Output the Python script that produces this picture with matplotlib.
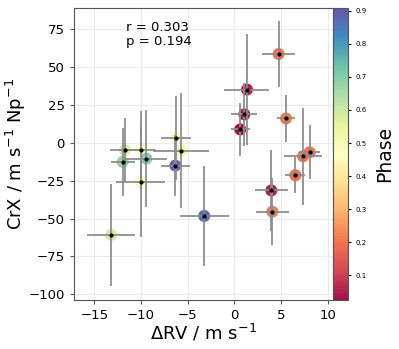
import matplotlib
matplotlib.use("Agg")
import matplotlib.pyplot as plt
import numpy as np

# values
drv = [4.75, 1.36, 1.07, 0.64, 5.54, 8.07, 7.36, 6.54, 3.97, 4.07,
       -11.72, -10.0, -9.43, -10.04, -11.97, -6.22, -6.32, -5.71, -3.22, -13.2]
drv_err = [1.79, 2.41, 1.38, 1.0, 0.98, 1.16, 2.06, 1.05, 1.79, 1.79,
           1.6, 1.6, 2.2, 2.64, 1.29, 1.59, 1.57, 3.04, 2.65, 2.59]
crx = [58.4, 35.0, 18.6, 8.7, 15.9, -6.4, -9.0, -21.5, -31.5, -45.5,
       -5.0, -5.0, -10.5, -25.9, -12.7, 3.1, -15.1, -5.2, -48.3, -60.8]
crx_err = [21.6, 36.8, 21.0, 17.5, 15.4, 17.7, 31.8, 12.0, 26.6, 22.1,
           21.0, 25.6, 32.0, 36.0, 22.6, 27.6, 20.1, 37.9, 32.8, 33.6]
phase = [0.2, 0.05, 0.04, 0.03, 0.21, 0.2, 0.2, 0.19, 0.05, 0.21,
         0.58, 0.48, 0.7, 0.45, 0.68, 0.49, 0.88, 0.53, 0.88, 0.59]
r_val = 0.303
p_val = 0.194

fig = plt.figure(figsize=(3.99, 3.49), dpi=100)
ax = fig.add_axes([0.185, 0.14, 0.65, 0.837])
cax = fig.add_axes([0.835, 0.14, 0.037, 0.837])

ax.grid(True, color="#ebebeb", lw=0.8, zorder=0)
ax.set_axisbelow(True)

sc = ax.scatter(drv, crx, c=phase, cmap="Spectral", vmin=0.025, vmax=0.908,
                s=75, edgecolors="none", alpha=0.95, zorder=2)
ax.errorbar(drv, crx, xerr=drv_err, yerr=crx_err, fmt="none",
            ecolor="#8c8c8c", elinewidth=1.4, alpha=0.9, zorder=3)
ax.scatter(drv, crx, c="k", s=4, zorder=4)

ax.set_xlim(-17.2, 10.6)
ax.set_ylim(-103.8, 88.7)
ax.set_xticks([-15, -10, -5, 0, 5, 10])
ax.set_yticks([-100, -75, -50, -25, 0, 25, 50, 75])
ax.tick_params(labelsize=9.5, length=3, color="#555555")
for s in ax.spines.values():
    s.set_color("#555555")

ax.set_xlabel("ΔRV / m s$^{-1}$", fontsize=13, labelpad=0)
ax.set_ylabel("CrX / m s$^{-1}$ Np$^{-1}$", fontsize=13, labelpad=0)
ax.text(0.20, 0.955, f"r = {r_val:.3f}\np = {p_val:.3f}",
        transform=ax.transAxes, ha="left", va="top", fontsize=9.5,
        linespacing=1.1)

cb = fig.colorbar(sc, cax=cax)
cb.set_ticks([0.1, 0.2, 0.3, 0.4, 0.5, 0.6, 0.7, 0.8, 0.9])
cb.ax.tick_params(labelsize=5, length=2)
cb.outline.set_edgecolor("#555555")
cb.set_label("Phase", fontsize=13.5, labelpad=6)

fig.savefig("out.png", dpi=100)
